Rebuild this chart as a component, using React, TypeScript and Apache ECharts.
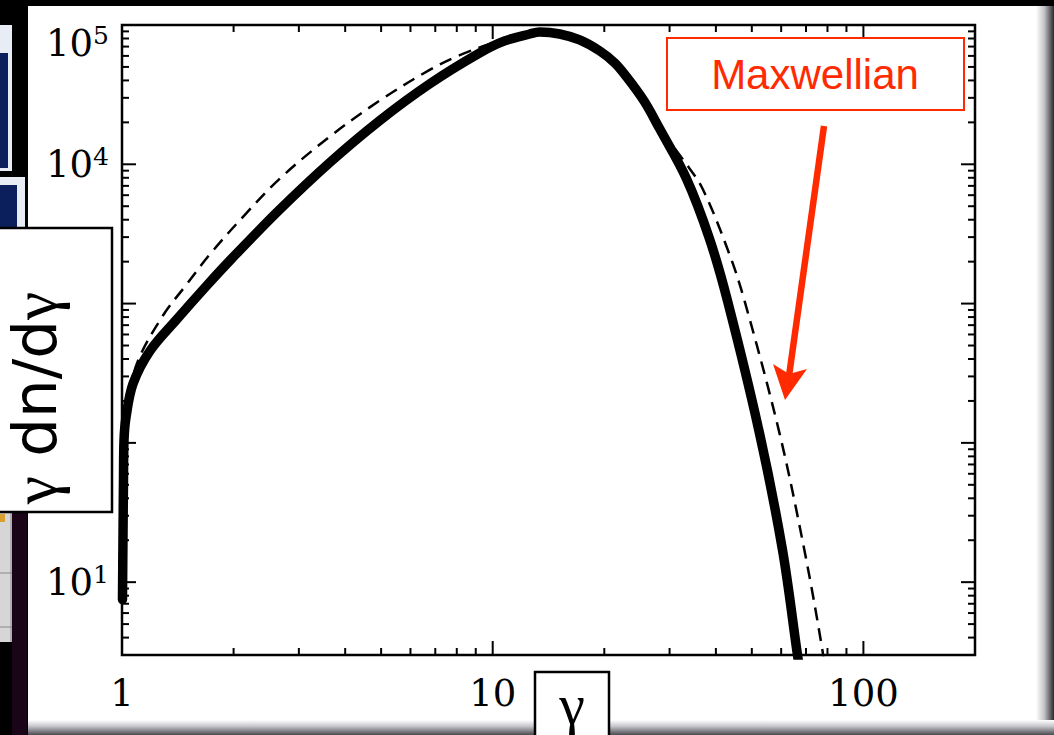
import React, { useEffect, useRef } from 'react';
import * as echarts from 'echarts';

// ---- axis ranges and ticks ----
const X_MIN = 1;
const X_MAX = 200;
const Y_MIN = 3.0;
const Y_MAX = 1e5;
const X_LABELS = [1, 10, 100];
const Y_LABELS = [10, 100, 1000, 10000, 100000];
const X_MAJOR_TICKS = [1, 10, 100];
const X_MINOR_TICKS = [2, 3, 4, 5, 6, 7, 8, 9, 20, 30, 40, 50, 60, 70, 80, 90];
const Y_MAJOR_TICKS = [10, 100, 1000, 10000, 100000];
const Y_MINOR_TICKS = [
  4, 5, 6, 7, 8, 9,
  20, 30, 40, 50, 60, 70, 80, 90,
  200, 300, 400, 500, 600, 700, 800, 900,
  2000, 3000, 4000, 5000, 6000, 7000, 8000, 9000,
  20000, 30000, 40000, 50000, 60000, 70000, 80000, 90000,
];

// ---- simulated spectrum (thick solid) ----
const SIM_GAMMA = [
  1.003, 1.006, 1.0093, 1.0125, 1.025, 1.071, 1.19, 1.407, 1.695, 1.98,
  2.666, 3.636, 4.96, 6.76, 9.23, 10.77, 12.58, 13.39, 15.16, 17.16,
  19.43, 21.33, 22.96, 25.68, 28.19, 33.3, 38.4, 43.0, 52.45, 60.5, 66.4, 67.6,
];
const SIM_VALUE = [
  7.5, 20, 54, 104, 152, 266, 458, 773, 1352, 2112,
  4742, 10300, 20640, 37790, 63050, 76850, 86200, 89100, 86200, 78100,
  65200, 53500, 42500, 28130, 18040, 7910, 2945, 1045, 117, 17, 3.0, 2.17,
];

// ---- Maxwellian fit (dashed) ----
const MAXW_GAMMA = [
  1.003, 1.0125, 1.038, 1.104, 1.29, 1.497, 1.727, 2.145, 2.666, 3.636,
  4.96, 6.76, 8.15, 10.44, 12.2, 13.39, 15.16, 17.16, 19.43, 21.33,
  22.96, 25.68, 28.19, 32.9, 36.8, 43.5, 47.8, 59.4, 69.3, 77.5, 78.5,
];
const MAXW_VALUE = [
  14.4, 123, 201, 388, 821, 1383, 2263, 4338, 7902, 15810,
  28700, 47580, 60720, 76850, 84340, 89100, 86200, 78100, 65200, 53500,
  42500, 28130, 18300, 10470, 6710, 2265, 1045, 117, 17, 3.27, 2.36,
];

const RED = '#ff2a00';
const SERIF = '"Liberation Serif", "Times New Roman", serif';
const TICK_FONT = '"DejaVu Serif", serif';

export default function App() {
  const ref = useRef<HTMLDivElement>(null);

  useEffect(() => {
    if (!ref.current) return;
    const chart = echarts.init(ref.current, undefined, { renderer: 'svg' });

    const simData = SIM_GAMMA.map((g, i) => [g, SIM_VALUE[i]]);
    const maxwData = MAXW_GAMMA.map((g, i) => [g, MAXW_VALUE[i]]);
    const xTickData = X_MAJOR_TICKS.map((v) => [v, Y_MIN, 1]).concat(
      X_MINOR_TICKS.map((v) => [v, Y_MIN, 0])
    );
    const yTickData = Y_MAJOR_TICKS.map((v) => [X_MIN, v, 1]).concat(
      Y_MINOR_TICKS.map((v) => [X_MIN, v, 0])
    );

    const tickStyle = { stroke: '#000', lineWidth: 2 };

    const option: any = {
      animation: false,
      backgroundColor: '#000',
      grid: {
        left: 122,
        right: 79,
        top: 23,
        bottom: 80,
        show: true,
        backgroundColor: '#fff',
        borderColor: '#000',
        borderWidth: 2.5,
      },
      xAxis: {
        type: 'log',
        logBase: 10,
        min: X_MIN,
        max: X_MAX,
        axisLine: { show: false },
        axisTick: { show: false },
        splitLine: { show: false },
        minorTick: { show: false },
        axisLabel: {
          margin: 20,
          color: '#000',
          fontSize: 37,
          fontFamily: TICK_FONT,
          showMinLabel: true,
          showMaxLabel: true,
          formatter: (v: number) =>
            X_LABELS.some((l) => Math.abs(l - v) < 1e-9 * l) ? String(Math.round(v)) : '',
        },
      },
      yAxis: {
        type: 'log',
        logBase: 10,
        min: Y_MIN,
        max: Y_MAX,
        axisLine: { show: false },
        axisTick: { show: false },
        splitLine: { show: false },
        minorTick: { show: false },
        axisLabel: {
          margin: 13,
          color: '#000',
          fontSize: 37,
          fontFamily: TICK_FONT,
          showMinLabel: true,
          showMaxLabel: true,
          formatter: (v: number) => {
            const lab = Y_LABELS.find((l) => Math.abs(l - v) < 1e-9 * l);
            if (lab == null) return '';
            const e = Math.round(Math.log10(lab));
            if (lab === Y_LABELS[Y_LABELS.length - 1]) return `{t| }\n{b|10}{s|${e}}`;
            return `{b|10}{s|${e}}`;
          },
          rich: {
            t: { fontSize: 10, lineHeight: 36, fontFamily: TICK_FONT },
            b: { fontSize: 37, lineHeight: 40, fontFamily: TICK_FONT, color: '#000' },
            s: { fontSize: 25, lineHeight: 25, fontFamily: TICK_FONT, color: '#000', verticalAlign: 'top' },
          },
        },
      },
      series: [
        {
          type: 'custom',
          name: 'xticks',
          silent: true,
          z: 3,
          data: xTickData,
          renderItem: (params: any, api: any) => {
            const v = api.value(0);
            const len = api.value(2) === 1 ? 14 : 7;
            const b = api.coord([v, Y_MIN]);
            const t = api.coord([v, Y_MAX]);
            return {
              type: 'group',
              children: [
                { type: 'line', shape: { x1: b[0], y1: b[1], x2: b[0], y2: b[1] - len }, style: tickStyle },
                { type: 'line', shape: { x1: t[0], y1: t[1], x2: t[0], y2: t[1] + len }, style: tickStyle },
              ],
            };
          },
        },
        {
          type: 'custom',
          name: 'yticks',
          silent: true,
          z: 3,
          data: yTickData,
          renderItem: (params: any, api: any) => {
            const v = api.value(1);
            const len = api.value(2) === 1 ? 14 : 7;
            const l = api.coord([X_MIN, v]);
            const r = api.coord([X_MAX, v]);
            return {
              type: 'group',
              children: [
                { type: 'line', shape: { x1: l[0], y1: l[1], x2: l[0] + len, y2: l[1] }, style: tickStyle },
                { type: 'line', shape: { x1: r[0], y1: r[1], x2: r[0] - len, y2: r[1] }, style: tickStyle },
              ],
            };
          },
        },
        {
          type: 'line',
          name: 'Maxwellian',
          data: maxwData,
          showSymbol: false,
          smooth: 0.35,
          clip: true,
          z: 4,
          lineStyle: { color: '#000', width: 2.5, type: [13, 8] },
        },
        {
          type: 'line',
          name: 'simulation',
          data: simData,
          showSymbol: false,
          smooth: 0.35,
          clip: true,
          z: 5,
          lineStyle: { color: '#000', width: 9.5, cap: 'round', join: 'round' },
        },
      ],
      graphic: {
        elements: [
          // white slide card and its shadows
          { type: 'rect', z: -10, shape: { x: 28, y: 6, width: 1012, height: 716 }, style: { fill: '#fff' } },
          {
            type: 'rect', z: -10, shape: { x: 1036, y: 6, width: 18, height: 729 },
            style: {
              fill: new echarts.graphic.LinearGradient(0, 0, 1, 0, [
                { offset: 0, color: '#ffffff' },
                { offset: 0.45, color: '#c4c4ca' },
                { offset: 1, color: '#2a2a2e' },
              ]),
            },
          },
          {
            type: 'rect', z: -10, shape: { x: 28, y: 720, width: 1026, height: 15 },
            style: {
              fill: new echarts.graphic.LinearGradient(0, 0, 0, 1, [
                { offset: 0, color: '#ffffff' },
                { offset: 0.4, color: '#c8c8ce' },
                { offset: 1, color: '#4a4a50' },
              ]),
            },
          },
          // background screenshot fragments on the left
          { type: 'rect', z: -10, shape: { x: 0, y: 25, width: 12, height: 146 }, style: { fill: '#e8ecf4' } },
          { type: 'rect', z: -10, shape: { x: 0, y: 53, width: 8, height: 115 }, style: { fill: '#0b1f5c' } },
          { type: 'rect', z: -10, shape: { x: 0, y: 177, width: 25, height: 51 }, style: { fill: '#e8ecf4' } },
          { type: 'rect', z: -10, shape: { x: 0, y: 185, width: 17, height: 43 }, style: { fill: '#0b1f5c' } },
          { type: 'rect', z: -10, shape: { x: 12, y: 512, width: 15, height: 223 }, style: { fill: '#1a0418' } },
          { type: 'rect', z: -10, shape: { x: 0, y: 512, width: 12, height: 130 }, style: { fill: '#d6d6d8' } },
          { type: 'rect', z: -10, shape: { x: 0, y: 514, width: 5, height: 8 }, style: { fill: '#d8a030' } },
          { type: 'line', z: -9, shape: { x1: 0, y1: 573, x2: 12, y2: 573 }, style: { stroke: '#888', lineWidth: 1 } },
          { type: 'line', z: -9, shape: { x1: 0, y1: 627, x2: 12, y2: 627 }, style: { stroke: '#888', lineWidth: 1 } },
          { type: 'line', z: -9, shape: { x1: 11, y1: 512, x2: 11, y2: 642 }, style: { stroke: '#888', lineWidth: 1 } },

          // y-axis title box
          { type: 'rect', z: 100, shape: { x: -5, y: 228, width: 117, height: 284 }, style: { fill: '#fff', stroke: '#000', lineWidth: 2.5 } },
          {
            type: 'text', z: 101, x: 34, y: 398, rotation: Math.PI / 2,
            style: {
              text: '{g|γ} dn/d{g|γ}', fontSize: 61, lineHeight: 60,
              fontFamily: '"DejaVu Sans", "Noto Sans", sans-serif', fill: '#000',
              align: 'center', verticalAlign: 'middle', textAlign: 'center', textVerticalAlign: 'middle',
              rich: {
                g: { fontSize: 64, lineHeight: 60, fontFamily: SERIF, fill: '#000' },
              },
            },
          },
          // x-axis title box
          { type: 'rect', z: 100, shape: { x: 535, y: 672, width: 74, height: 80 }, style: { fill: '#fff', stroke: '#000', lineWidth: 2.5 } },
          {
            type: 'text', z: 101, x: 572, y: 704,
            style: {
              text: 'γ', fontSize: 58, lineHeight: 58, fontFamily: SERIF, fill: '#000',
              align: 'center', verticalAlign: 'middle', textAlign: 'center', textVerticalAlign: 'middle',
            },
          },
          // Maxwellian annotation
          { type: 'rect', z: 100, shape: { x: 667, y: 38, width: 297, height: 72 }, style: { fill: '#fff', stroke: RED, lineWidth: 2 } },
          {
            type: 'text', z: 101, x: 815, y: 74,
            style: {
              text: 'Maxwellian', fontSize: 42, fontFamily: '"Liberation Sans", Arial, sans-serif', fill: RED,
              align: 'center', verticalAlign: 'middle', textAlign: 'center', textVerticalAlign: 'middle',
            },
          },
          { type: 'line', z: 100, shape: { x1: 824, y1: 126, x2: 789, y2: 376 }, style: { stroke: RED, lineWidth: 6.5 } },
          {
            type: 'polygon', z: 100,
            shape: { points: [[785, 400], [773, 364], [789, 374], [807, 369]] },
            style: { fill: RED },
          },
        ],
      },
    };

    chart.setOption(option);
    return () => chart.dispose();
  }, []);

  return (
    <div
      ref={ref}
      style={{ position: 'fixed', left: 0, top: 0, width: 1054, height: 735, background: '#000' }}
    />
  );
}
